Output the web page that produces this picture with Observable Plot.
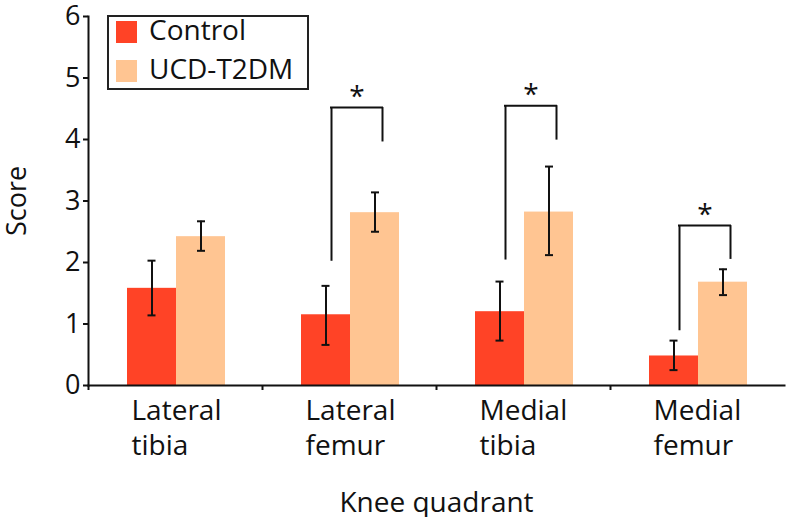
<!DOCTYPE html>
<html>
<head>
<meta charset="utf-8">
<script src="https://cdn.jsdelivr.net/npm/d3@7"></script>
<script src="https://cdn.jsdelivr.net/npm/@observablehq/plot@0.6"></script>
<style>
  html, body { margin: 0; padding: 0; background: #fff; }
  #wrap { position: relative; width: 787px; height: 517px; font-family: "Open Sans", sans-serif; color: #111; }
  #legend { position: absolute; left: 107px; top: 15px; width: 198px; height: 71px; border: 2px solid #222; background: #fff; }
  .sw { position: absolute; width: 21px; height: 22px; }
  .lt { position: absolute; font-size: 28px; line-height: 1; white-space: nowrap; }
</style>
</head>
<body>
<div id="wrap"><div id="legend"></div></div>
<script>
const categories = ["Lateral tibia", "Lateral femur", "Medial tibia", "Medial femur"];
const tickLabels = ["Lateral\ntibia", "Lateral\nfemur", "Medial\ntibia", "Medial\nfemur"];
const series = ["Control", "UCD-T2DM"];
const colors = ["#FF4326", "#FFC592"];

const controlMean = [1.58, 1.15, 1.20, 0.48];
const controlLow  = [1.14, 0.66, 0.73, 0.25];
const controlHigh = [2.03, 1.62, 1.69, 0.73];

const ucdMean = [2.42, 2.81, 2.82, 1.68];
const ucdLow  = [2.19, 2.50, 2.12, 1.47];
const ucdHigh = [2.67, 3.14, 3.56, 1.89];

const sigCategories = ["Lateral femur", "Medial tibia", "Medial femur"];
const sigLeft  = [2.02, 2.04, 0.89];
const sigRight = [3.96, 3.99, 2.05];
const sigTop   = [4.52, 4.55, 2.60];

const yTicks = [0, 1, 2, 3, 4, 5, 6];

const ctrl = categories.map((c, i) => ({cat: c, s: series[0], mean: controlMean[i], lo: controlLow[i], hi: controlHigh[i]}));
const ucd = categories.map((c, i) => ({cat: c, s: series[1], mean: ucdMean[i], lo: ucdLow[i], hi: ucdHigh[i]}));
const sig = sigCategories.map((c, i) => ({cat: c, left: sigLeft[i], right: sigRight[i], top: sigTop[i]}));

const ink = "#111";
const chart = Plot.plot({
  width: 787,
  height: 517,
  marginLeft: 88,
  marginRight: 3,
  marginTop: 16,
  marginBottom: 132,
  style: {fontFamily: "Open Sans", fontSize: "26px", color: ink, background: "#fff", overflow: "visible"},
  x: {domain: categories, padding: 0, axis: null},
  y: {domain: [0, 6], axis: null},
  color: {domain: series, range: colors},
  marks: [
    Plot.barY(ctrl, {x: "cat", y: "mean", fill: "s", insetLeft: 39, insetRight: 86}),
    Plot.barY(ucd, {x: "cat", y: "mean", fill: "s", insetLeft: 88, insetRight: 37}),
    // error bars
    Plot.ruleX(ctrl, {x: "cat", y1: "lo", y2: "hi", dx: -23.5, stroke: ink, strokeWidth: 2}),
    Plot.ruleX(ucd, {x: "cat", y1: "lo", y2: "hi", dx: 25.5, stroke: ink, strokeWidth: 2}),
    Plot.tickY(ctrl, {x: "cat", y: "lo", insetLeft: 59.5, insetRight: 106.5, stroke: ink, strokeWidth: 2}),
    Plot.tickY(ctrl, {x: "cat", y: "hi", insetLeft: 59.5, insetRight: 106.5, stroke: ink, strokeWidth: 2}),
    Plot.tickY(ucd, {x: "cat", y: "lo", insetLeft: 109, insetRight: 57, stroke: ink, strokeWidth: 2}),
    Plot.tickY(ucd, {x: "cat", y: "hi", insetLeft: 109, insetRight: 57, stroke: ink, strokeWidth: 2}),
    // significance brackets
    Plot.ruleX(sig, {x: "cat", y1: "left", y2: "top", dx: -18, stroke: ink, strokeWidth: 2}),
    Plot.ruleX(sig, {x: "cat", y1: "right", y2: "top", dx: 33, stroke: ink, strokeWidth: 2}),
    Plot.tickY(sig, {x: "cat", y: "top", insetLeft: 68, insetRight: 53, stroke: ink, strokeWidth: 2}),
    Plot.text(sig, {x: "cat", y: "top", text: () => "*", dx: 7.5, dy: -2, fontSize: 28, fill: ink, lineAnchor: "bottom"}),
    // axes
    Plot.frame({anchor: "left", stroke: ink, strokeWidth: 2}),
    Plot.frame({anchor: "bottom", stroke: ink, strokeWidth: 2}),
    Plot.ruleX(categories, {x: d => d, dx: -87, insetTop: 369, insetBottom: -5, stroke: ink, strokeWidth: 2}),
    Plot.axisY({ticks: yTicks, tickFormat: d => String(d), tickSize: 5, tickPadding: 3, fontSize: 27, strokeWidth: 2, label: null}),
    Plot.axisX({tickSize: 0, tickPadding: 10, tickFormat: d => tickLabels[categories.indexOf(d)], textAnchor: "start", dx: -44, fontSize: 28, lineHeight: 1.25, letterSpacing: -0.6, label: null}),
    Plot.text(["Knee quadrant"], {frameAnchor: "bottom", dy: 118, fontSize: 28, fill: ink, lineAnchor: "middle", letterSpacing: -0.4}),
    Plot.text(["Score"], {frameAnchor: "left", textAnchor: "middle", dx: -71, rotate: -90, fontSize: 27, fill: ink, lineAnchor: "middle"})
  ]
});
const wrap = document.getElementById("wrap");
wrap.insertBefore(chart, wrap.firstChild);
chart.style.position = "absolute";
chart.style.left = "0";
chart.style.top = "0";

const legend = document.getElementById("legend");
series.forEach((s, i) => {
  const sw = document.createElement("div");
  sw.className = "sw";
  sw.style.left = "7px";
  sw.style.top = (4 + i * 39) + "px";
  sw.style.background = colors[i];
  legend.appendChild(sw);
  const t = document.createElement("div");
  t.className = "lt";
  t.style.left = "40px";
  t.style.top = (i * 39 - 2) + "px";
  t.textContent = s;
  legend.appendChild(t);
});
</script>
</body>
</html>
